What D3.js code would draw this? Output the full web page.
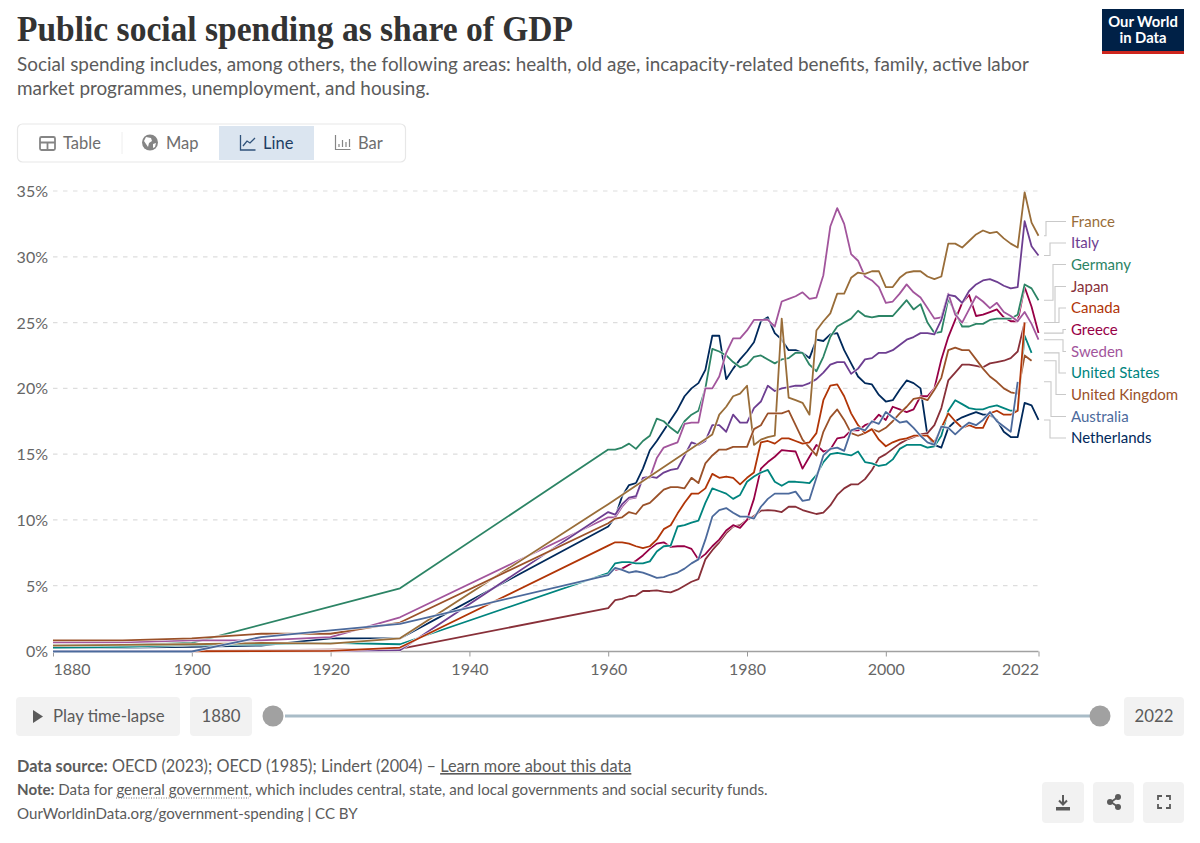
<!Doctype html>
<html>
<head>
  <meta charset="utf-8">
  <title>Public social spending as share of GDP</title>
  <style>
    body{margin:0;background:#fff;font-family:Lato,sans-serif;}
    svg{display:block;}
    .ax .domain{display:none;}
    .ax text{font-family:Lato,sans-serif;font-size:16px;fill:#666;}
  </style>
</head>
<body>
<div id="container"></div>
<script src="https://cdn.jsdelivr.net/npm/d3@7"></script>
<script>
  var years = [1880,1890,1900,1910,1920,1930].concat(d3.range(1960,2023));

  var yTicks = [0,5,10,15,20,25,30,35];
  var xTicks = [1880,1900,1920,1940,1960,1980,2000,2022];

  var names = ["France","Italy","Germany","Japan","Canada","Greece","Sweden","United States","United Kingdom","Australia","Netherlands"];
  var colors = ["#996D39","#6D3E91","#2C8465","#883039","#B13507","#970046","#A2559C","#00847E","#9A5129","#4C6A9C","#00295B"];

  // each list: 1880,1890,1900,1910,1920,1930 then every year 1960-2022
  var france = [0.45,0.5,0.55,0.65,0.6,1.0,
    11.2,null,null,null,null,null,null,null,null,null,
    null,null,null,null,null,16.5,18,18.6,19.4,19.6,
    20.2,15.7,16.1,16.3,16.4,25.3,19.3,19.1,18.9,18,
    24.4,25.1,25.7,27.2,27.2,28.4,28.8,28.7,28.9,28.9,
    27.7,27.7,28.4,28.8,28.9,28.9,28.5,28.3,28.5,31,
    31,30.7,31.2,31.7,32,31.8,31.9,31.4,31,30.7,34.9,32.6,31.6];
  var italy = [0.05,0.05,0.05,0.05,0.05,0.1,
    10.6,10.4,11.2,11.7,11.8,13.2,13.3,13.2,13.6,13.8,
    13.9,14.9,15.9,15.7,16,17.2,17.2,16.7,18,17.4,
    17.4,18.5,19,20.2,19.8,20,20.1,20.2,20.2,20.4,
    20.7,21.2,21.8,22,22,21.1,21.5,22.2,22.3,22.7,
    22.7,22.9,23.3,23.7,23.9,24.2,24.2,24.1,25.2,27.1,
    27,26.5,27.4,27.9,28.2,28.3,28.1,27.8,27.6,27.7,32.7,30.8,30.1];
  var germany = [0.5,0.5,0.65,null,null,4.8,
    15.35,15.35,15.5,15.8,15.4,16,16.4,17.7,17.5,17,
    16.6,17.5,18,18.3,20,23,22.8,22.5,22,21.6,
    21.8,22.4,22.5,22.2,21.9,22.2,22.3,22.7,22.7,21.8,
    21.3,22.4,23.9,24.7,25,25.3,25.9,25.5,25.4,25.5,
    25.5,25.5,26.1,26.7,26,26.4,25,24.2,24.3,26.8,
    25.8,24.7,24.7,24.9,24.9,25.2,25.3,25.3,25.3,25.6,27.9,27.6,26.7];
  var japan = [0.05,0.05,0.05,0.1,0.15,0.2,
    3.3,3.9,4,4.2,4.25,4.6,4.6,4.65,4.55,4.5,
    4.7,5,5.3,5.5,7,7.7,8.3,9,9.5,9.6,
    10,10.3,10.7,10.75,10.7,10.6,11,11,10.75,10.6,
    10.45,10.55,11.1,11.9,12.4,12.7,12.7,13.1,13.8,14.7,
    15,15.4,15.8,16.1,16.3,16.5,16.6,17.2,18.5,20.6,
    21.2,21.8,21.8,21.7,21.6,21.9,22,22.1,22.3,22.8,25,null,null];
  var canada = [null,null,0.02,0.03,0.05,0.3,
    8.05,8.3,8.3,8.2,8,7.85,8,8.5,9.3,9.6,
    10.5,11.3,12,12,12.4,13.5,13.2,13.3,13.2,12.7,
    13.2,13.6,15.9,16,15.8,16.2,16.2,16,15.8,15.9,
    16.6,19.1,20.2,20.3,19.4,18.1,17.2,16.6,16.9,16.1,
    15.6,15.9,16.1,16.2,16.4,16.4,16.4,15.9,17,18.1,
    17.5,17,17.2,17,17,18.1,18.3,18,18,18.3,25,null,null];
  var greece = [null,null,null,null,null,null,
    null,6.2,6.3,6.6,6.9,7.3,7.8,8.2,8.3,7.95,
    8,8,7.8,7,7.4,8,8.5,9.2,9.6,9.4,
    10,11.6,13.9,14.4,14.8,15.3,15.25,15.2,13.9,14.8,
    15.7,15.2,15.35,16.2,16.3,16.8,16.8,17.2,17.4,18,
    17.6,18.6,18.4,18.2,18.4,19.4,19.4,20,22.2,23.9,
    25.2,26.5,27.1,25.5,25.6,25.8,26,25.4,25.1,25.1,27.7,26.2,24.2];
  var sweden = [0.7,0.7,0.85,0.85,1.1,2.6,
    10.2,10.2,11,11.6,11.7,13.2,13.2,14.7,15.5,15.7,
    15.9,17.3,17.4,17.4,20,20,20.9,22.7,23.8,23.8,
    24.4,25.2,25.2,25.2,24.7,26.6,26.8,27,27.3,26.8,
    26.9,28.6,32.3,33.7,32.5,30.2,29.7,28.5,28.2,27.7,
    26.5,26.6,27.2,27.9,27.3,26.9,26.1,25.3,25.4,27.2,
    25.6,25,26,27,26.6,26.1,26.5,25.8,25.5,25.1,25.8,24.9,23.7];
  var unitedStates = [0.3,0.35,0.5,0.55,0.65,0.55,
    5.96,6.7,6.8,6.8,6.7,6.7,6.85,7.6,8,8.05,
    9.5,9.6,9.8,9.95,11.3,12.4,12.2,12,11.6,11.9,
    12.9,13.3,13.6,13.8,12.9,12.6,12.9,12.9,12.85,12.8,
    13.4,14.4,15,15.1,15,14.9,15.2,14.4,14.3,14.1,
    14.2,14.6,15.4,15.7,15.7,15.7,15.5,15.6,16.4,18.3,
    19.1,18.8,18.5,18.4,18.4,18.6,18.7,18.5,18.3,18.3,24,22.7,null];
  var unitedKingdom = [0.85,0.85,1,1.35,1.35,2.2,
    9.75,10.1,10.2,10.6,10.45,11.1,11.3,11.8,12.3,12.5,
    12.5,12.4,13.2,12.8,14.3,14.9,15.35,15.35,15.55,15.55,
    15.55,16.9,17.2,18.1,18.1,18.1,18.3,17.2,16.1,15.5,
    14.9,16.7,17.8,18.4,17.6,16.6,16.4,16.6,16.9,16.7,
    17,17.5,18.1,18.6,19.2,19.3,19.1,19.9,20.8,22.9,
    23.1,22.9,22.9,22.2,21.5,20.9,20.5,20,19.7,19.6,22.5,22.1,null];
  var australia = [0,0,0,1.1,1.6,2.1,
    5.8,6.35,6.2,6,6.1,6,5.8,5.6,5.65,5.85,
    6,6.3,6.7,7,8.5,10.25,10.75,10.9,10.55,10.25,
    10.25,10.1,11,11.6,12,12,12,12.15,11.45,11.55,
    13.2,14.9,15.4,15.5,15.25,16.8,17,16.8,17.5,17.3,
    18.2,17.8,17.4,17.5,17,16.4,15.9,15.7,17.1,17,
    16.5,17,17.4,17.2,17.6,18.2,17.5,17.1,16.7,20.5,null,null,null];
  var netherlands = [0.3,0.3,0.35,0.45,1,1,
    9.5,10.2,11.8,12.65,12.8,13.9,15.3,16,16.8,17.6,
    18.4,19.4,20,20.4,21.4,24,24,20.7,21.5,22.2,
    22.8,23.5,25.1,25.4,24.2,23.7,22.9,22.9,22.7,22.3,
    23.7,23.6,24.1,24.2,22.9,21.9,20.9,20.4,20.3,19.5,
    19,19.1,19.9,20.6,20.4,20,16.4,15.7,15.5,17,
    17.5,17.8,18,18.2,18,18,17.6,16.7,16.3,16.3,18.9,18.7,17.6];

  var seriesValues = [france,italy,germany,japan,canada,greece,sweden,unitedStates,unitedKingdom,australia,netherlands];
  var drawOrder = [10,3,5,2,7,6,1,0,8,4,9];

  var tabLabels = ["Table","Map","Line","Bar"];

  var width = 1200, height = 843;
  var margin = {top: 191, left: 53, right: 1038.5, bottom: 651.5};

  var svg = d3.select("#container").append("svg")
      .attr("width", width)
      .attr("height", height)
      .style("font-family", "Lato,sans-serif");

  var xScale = d3.scaleLinear().domain([1880,2022]).range([margin.left,margin.right]);
  var yScale = d3.scaleLinear().domain([0,35]).range([margin.bottom,margin.top]);

  //----------------header
  svg.append("text").text("Public social spending as share of GDP")
    .attr("x",17).attr("y",41)
    .attr("font-family","'Liberation Serif',serif").attr("font-weight",700).attr("font-size",36)
    .attr("textLength",556).attr("lengthAdjust","spacingAndGlyphs")
    .attr("fill","#333");

  var subtitle = ["Social spending includes, among others, the following areas: health, old age, incapacity-related benefits, family, active labor",
    "market programmes, unemployment, and housing."];
  svg.selectAll(".sub").data(subtitle).enter().append("text")
    .attr("class","sub").text(function(d){return d;})
    .attr("x",17).attr("y",function(d,i){return 71+i*23.5;})
    .attr("font-size",18.9).attr("fill","#5b5b5b");

  // logo
  svg.append("rect").attr("x",1102).attr("y",9).attr("width",82).attr("height",45).attr("fill","#002147");
  svg.append("rect").attr("x",1102).attr("y",51).attr("width",82).attr("height",3).attr("fill","#ce261e");
  svg.selectAll(".logo").data(["Our World","in Data"]).enter().append("text")
    .attr("class","logo").text(function(d){return d;})
    .attr("x",1143).attr("y",function(d,i){return 27+i*15.5;})
    .attr("text-anchor","middle").attr("font-weight",700).attr("font-size",14.8).attr("fill","#fff");

  //----------------tabs
  svg.append("rect").attr("x",17.5).attr("y",124).attr("width",388).attr("height",38).attr("rx",5)
    .attr("fill","#fff").attr("stroke","#e7e7e7").attr("stroke-width",1.2);
  svg.append("rect").attr("x",219).attr("y",126).attr("width",95).attr("height",34).attr("fill","#dbe5f0");
  svg.append("line").attr("x1",122).attr("x2",122).attr("y1",132).attr("y2",154).attr("stroke","#eee");
  var tabX = [63,166,263,358];
  svg.selectAll(".tab").data(tabLabels).enter().append("text")
    .attr("class","tab").text(function(d){return d;})
    .attr("x",function(d,i){return tabX[i];}).attr("y",149)
    .attr("font-size",16.5)
    .attr("fill",function(d){return d=="Line" ? "#1d3d63" : "#6e6e6e";});

  // table icon
  svg.append("rect").attr("x",40).attr("y",137).attr("width",15).attr("height",13).attr("rx",1.5)
    .attr("fill","#fff").attr("stroke","#858585").attr("stroke-width",1.8);
  svg.append("path").attr("d","M40 142.5H55M47.5 142V150").attr("stroke","#858585").attr("stroke-width",1.8);
  // globe icon
  svg.append("circle").attr("cx",150).attr("cy",142.5).attr("r",8).attr("fill","#858585");
  svg.append("path").attr("d","M146 137l5 1 1 3-3 2-1 4-2-3-2-3zM153 144l3-1-1 4-2 1z").attr("fill","#fff");
  // line icon
  svg.append("path").attr("d","M240.5 135v15h15M243 146l4-5 3 2 5-5").attr("fill","none").attr("stroke","#30527a").attr("stroke-width",1.3);
  // bar icon
  svg.append("path").attr("d","M335.5 135v14.5h15M339 147v-3M342.5 147v-7M346 147v-5M349.5 147v-8").attr("fill","none").attr("stroke","#858585").attr("stroke-width",1.2);

  //----------------axes
  var yAxis = d3.axisLeft(yScale).tickValues(yTicks).tickSize(0).tickPadding(5).tickFormat(function(d){return d+"%";});
  var gy = svg.append("g").attr("class","ax").attr("transform","translate("+margin.left+",0)").call(yAxis);
  gy.selectAll(".tick text").attr("dy","0.34em");

  svg.append("g").selectAll("line").data(yTicks.slice(1)).enter().append("line")
    .attr("x1",margin.left).attr("x2",margin.right)
    .attr("y1",function(d){return yScale(d);}).attr("y2",function(d){return yScale(d);})
    .attr("stroke","#ddd").attr("stroke-dasharray","4.5,5.5").attr("stroke-width",1.2);

  var xAxis = d3.axisBottom(xScale).tickValues(xTicks).tickSize(5).tickPadding(7).tickFormat(d3.format("d"));
  var gx = svg.append("g").attr("class","ax").attr("transform","translate(0,"+margin.bottom+")").call(xAxis);
  gx.selectAll(".tick line").attr("stroke","#999");
  gx.selectAll(".tick text").attr("text-anchor",function(d){
    if(d==1880){return "start";}
    if(d==2022){return "end";}
    return "middle";
  });
  svg.append("line").attr("x1",margin.left).attr("x2",margin.right)
    .attr("y1",margin.bottom).attr("y2",margin.bottom)
    .attr("stroke","#a1a1a1").attr("stroke-width",1.4);

  //----------------lines
  var nline = d3.line()
    .x(function(d){return xScale(d.year);})
    .y(function(d){return yScale(d.value);});

  function seriesPoints(vals){
    return years.map(function(y,i){return {year:y,value:vals[i]};})
      .filter(function(d){return d.value!=null;});
  }

  var lineG = svg.append("g").attr("fill","none").attr("stroke-linejoin","round");
  drawOrder.forEach(function(s){
    var pts = seriesPoints(seriesValues[s]);
    lineG.append("path").attr("d",nline(pts)).attr("stroke","#fff").attr("stroke-width",3).attr("opacity",0.8);
    lineG.append("path").attr("d",nline(pts)).attr("stroke",colors[s]).attr("stroke-width",1.8);
  });

  //----------------end labels and connectors
  var labelY = [222,243.5,265,287,308.5,330,352,373.5,395,417,438.5];
  var elbowX = [1046,1050,1053,1055,1059,1063,1063,1059,1056,1051,1050];

  names.forEach(function(n,i){
    var vals = seriesValues[i].filter(function(v){return v!=null;});
    var y0 = yScale(vals[vals.length-1]);
    var y1 = labelY[i]-0.5;
    svg.append("path")
      .attr("d","M1044 "+y0+"H"+elbowX[i]+"V"+y1+"H1066")
      .attr("fill","none").attr("stroke","#c9c9c9").attr("stroke-width",1.1);
    svg.append("text").text(n)
      .attr("x",1071).attr("y",labelY[i]).attr("dy","0.33em")
      .attr("font-size",15).attr("fill",colors[i]);
  });

  //----------------timeline
  function greyBox(x,y,w,h){
    svg.append("rect").attr("x",x).attr("y",y).attr("width",w).attr("height",h).attr("rx",4).attr("fill","#f2f2f2");
  }
  greyBox(16,697,164,39);
  greyBox(190,697,62,39);
  greyBox(1124,697,60,39);
  svg.append("path").attr("d","M33 710l10 6.5-10 6.5z").attr("fill","#5b5b5b");
  svg.append("text").text("Play time-lapse").attr("x",53).attr("y",722).attr("font-size",16.8).attr("fill","#5b5b5b");
  svg.append("text").text("1880").attr("x",221).attr("y",722).attr("text-anchor","middle").attr("font-size",16.8).attr("fill","#5b5b5b");
  svg.append("text").text("2022").attr("x",1154).attr("y",722).attr("text-anchor","middle").attr("font-size",16.8).attr("fill","#5b5b5b");
  svg.append("line").attr("x1",285).attr("x2",1090).attr("y1",716).attr("y2",716).attr("stroke","#a9bcc7").attr("stroke-width",3);
  svg.selectAll(".knob").data([273,1100]).enter().append("circle").attr("class","knob")
    .attr("cx",function(d){return d;}).attr("cy",716).attr("r",10.5).attr("fill","#a1a1a1");

  //----------------footer
  var src = svg.append("text").attr("x",17).attr("y",772).attr("font-size",16.3).attr("fill","#5b5b5b");
  src.append("tspan").text("Data source:").attr("font-weight",700);
  src.append("tspan").text(" OECD (2023); OECD (1985); Lindert (2004) – ");
  src.append("tspan").text("Learn more about this data").attr("text-decoration","underline");

  var note = svg.append("text").attr("x",17).attr("y",795).attr("font-size",15.1).attr("fill","#5b5b5b");
  note.append("tspan").text("Note:").attr("font-weight",700);
  note.append("tspan").text(" Data for ");
  note.append("tspan").text("general government").attr("id","gg");
  note.append("tspan").text(", which includes central, state, and local governments and social security funds.");
  svg.append("line").attr("x1",116).attr("x2",249).attr("y1",798).attr("y2",798)
    .attr("stroke","#777").attr("stroke-dasharray","1,1.5");

  svg.append("text").text("OurWorldinData.org/government-spending | CC BY")
    .attr("x",17).attr("y",819).attr("font-size",15.1).attr("fill","#5b5b5b");

  greyBox(1042,782,42,41);
  greyBox(1093,782,41,41);
  greyBox(1143,782,41,41);
  svg.append("path").attr("d","M1063 795v9M1059 800.5l4 4 4-4").attr("fill","none").attr("stroke","#5b5b5b").attr("stroke-width",2);
  svg.append("path").attr("d","M1056 807h14v3.5h-14z").attr("fill","#5b5b5b");
  svg.append("path").attr("d","M1118 797l-7 5 7 5").attr("fill","none").attr("stroke","#5b5b5b").attr("stroke-width",1.8);
  svg.selectAll(".sh").data([[1118,797],[1110,802],[1118,807]]).enter().append("circle").attr("class","sh")
    .attr("cx",function(d){return d[0];}).attr("cy",function(d){return d[1];}).attr("r",3).attr("fill","#5b5b5b");
  svg.append("path").attr("d","M1158 800v-4h4M1166 796h4v4M1170 804v4h-4M1162 808h-4v-4")
    .attr("fill","none").attr("stroke","#5b5b5b").attr("stroke-width",1.8);
</script>
</body>
</html>
